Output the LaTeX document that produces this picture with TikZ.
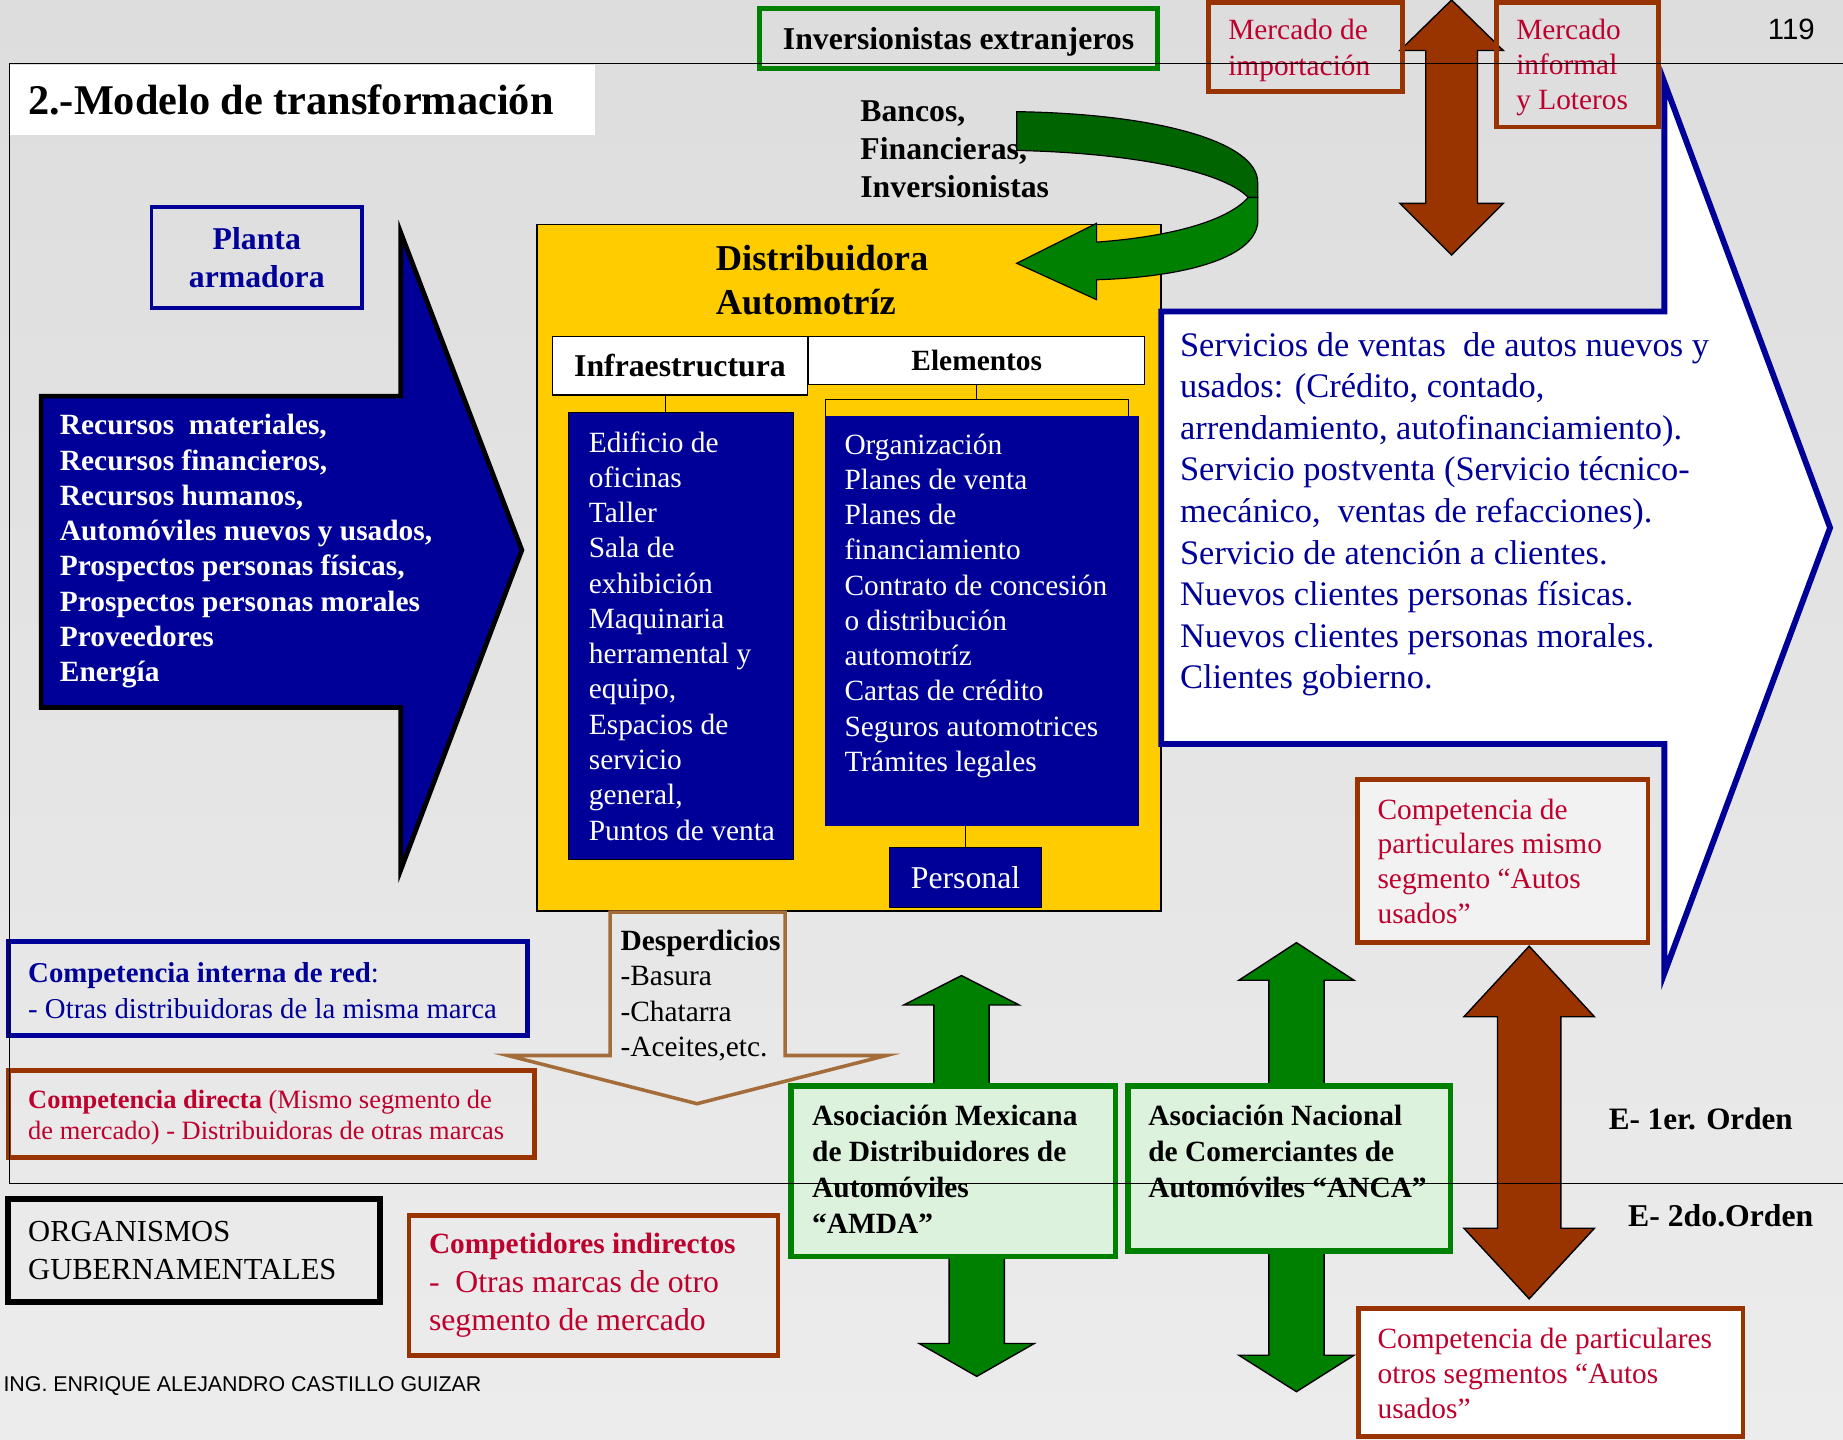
\documentclass[tikz,border=0pt]{standalone}
\usepackage{fontspec}
\setmainfont{Liberation Serif}
\newfontfamily\arial{Liberation Sans}
\definecolor{fondoA}{RGB}{221,221,221}
\definecolor{fondoB}{RGB}{236,236,236}
\definecolor{azul}{RGB}{0,0,153}
\definecolor{verde}{RGB}{0,128,0}
\definecolor{verdeosc}{RGB}{0,100,0}
\definecolor{verdeclaro}{RGB}{221,242,221}
\definecolor{cafe}{RGB}{153,51,0}
\definecolor{carmin}{RGB}{190,0,45}
\definecolor{amarillo}{RGB}{255,204,0}
\definecolor{ocre}{RGB}{163,108,56}
\definecolor{grisclaro}{RGB}{242,242,242}
\newcommand\tam[2]{\fontsize{#1}{#2}\selectfont}
\begin{document}
\begin{tikzpicture}[x=1pt,y=-1pt,
  every node/.style={inner sep=0pt,outer sep=0pt},
  caja/.style={rectangle,draw,line width=4pt,anchor=north west},
  cajacafe/.style={caja,draw=cafe},
  cajaazul/.style={caja,draw=azul},
  cajaverde/.style={caja,draw=verde,fill=verdeclaro,line width=5pt},
  rotulo/.style={rectangle,draw,fill=white,line width=1pt,anchor=north west},
  lista/.style={rectangle,fill=azul,anchor=north west},
  texto/.style={align=left,anchor=west},
  flechaverde/.style={fill=verde,draw=black,line width=1.2pt},
  flechacafe/.style={fill=cafe,draw=black,line width=1.2pt},
  marco/.style={line width=1.3pt}]
\def\flechav#1#2#3#4{
  \filldraw[flechaverde] (#1-23.5,#2) -- (#1-23.5,#3) -- (#1-49,#3) -- (#1,#4)
    -- (#1+49,#3) -- (#1+23.5,#3) -- (#1+23.5,#2) -- cycle;
}
\def\flechadoble#1#2#3#4#5#6#7{
  \filldraw[flechacafe] (#1,#4) -- (#1+#3,#5) -- (#1+#2,#5) -- (#1+#2,#6)
    -- (#1+#3,#6) -- (#1,#7) -- (#1-#3,#6) -- (#1-#2,#6) -- (#1-#2,#5)
    -- (#1-#3,#5) -- cycle;
}
\shade[top color=fondoA,bottom color=fondoB] (0,0) rectangle (1568,1225);
\useasboundingbox (0,0) rectangle (1568,1225);
% titulo
\node[fill=white,anchor=north west,minimum width=498,minimum height=60] (titulo) at (8,55) {};
\node[texto,font=\bfseries\tam{36}{40}] (titulotxt) at ([xshift=16pt]titulo.west) {2.-Modelo de transformación};
\node[caja,draw=verde,minimum width=339,minimum height=51,text depth=0pt,font=\bfseries\tam{27}{32}] (inversion) at (646,7) {Inversionistas extranjeros};
\node[font=\arial\tam{25}{30}] (pagina) at (1524,25) {119};
% entradas
\filldraw[fill=azul,draw=black,line width=4pt] (35,337) -- (341,337) -- (341,198) -- (444,468)
  -- (341,740) -- (341,602) -- (35,602) -- cycle;
\node[texto,text=white,font=\bfseries\tam{25}{30}] (recursos) at (51,469) {Recursos\ \ materiales,\\Recursos financieros,\\Recursos humanos,\\Automóviles nuevos y usados,\\Prospectos personas físicas,\\Prospectos personas morales\\Proveedores\\Energía};
\node[caja,draw=azul,line width=3pt,minimum width=179,minimum height=86,align=center,text=azul,font=\bfseries\tam{27}{32}] (planta) at (129,176) {Planta\\armadora};
% distribuidora
\node[rectangle,draw=black,fill=amarillo,line width=1.5pt,anchor=north west,minimum width=531,minimum height=584] (distribuidora) at (457,191) {};
\node[texto,font=\bfseries\tam{31}{37.5}] (distribuidoratxt) at (609,238.5) {Distribuidora\\Automotríz};
\node[rotulo,minimum width=217,minimum height=50,font=\bfseries\tam{27}{32}] (infra) at (470,286) {Infraestructura};
\node[rotulo,minimum width=286,minimum height=41,font=\bfseries\tam{25}{30}] (elementos) at (688,286) {Elementos};
\node[lista,draw=black,line width=0.8pt,minimum width=191,minimum height=380] (listainfra) at (484,351) {};
\node[texto,text=white,font=\tam{25}{30}] (listainfratxt) at ([xshift=17pt]listainfra.west) {Edificio de\\oficinas\\Taller\\Sala de\\exhibición\\Maquinaria\\herramental y\\equipo,\\Espacios de\\servicio\\general,\\Puntos de venta};
\node[lista,minimum width=267,minimum height=349] (listaelem) at (702,354) {};
\node[texto,anchor=north west,text=white,font=\tam{25}{30}] (listaelemtxt) at ([shift={(16.5,15)}]listaelem.north west) {Organización\\Planes de venta\\Planes de\\financiamiento\\Contrato de concesión\\o distribución\\automotríz\\Cartas de crédito\\Seguros automotrices\\Trámites legales};
\node[lista,draw=black,line width=1pt,minimum width=129,minimum height=51,text=white,font=\tam{27}{32}] (personal) at (757,721) {Personal};
\coordinate (horquilla) at (831,340);
\draw[line width=1pt] ([xshift=-12.5pt]infra.south) -- ([xshift=-12.5pt]infra.south |- listainfra.north);
\draw[line width=1pt] (elementos.south) -- (horquilla);
\draw[line width=1pt] (listaelem.north west) |- (horquilla) -| ([xshift=-9pt]listaelem.north east);
\draw[line width=1pt] (personal.north) -- (personal.north |- listaelem.south);
% financiamiento
\filldraw[fill=verdeosc,draw=black,line width=1pt] (865,95) .. controls (990,97) and (1070,122) .. (1070,155)
  -- (1070,168) -- (1062,168) .. controls (1040,145) and (960,130) .. (865,128) -- cycle;
\filldraw[fill=verde,draw=black,line width=1pt] (1062,168) -- (1070,168) -- (1070,190)
  .. controls (1066,222) and (1000,236) .. (933,238) -- (933,255) -- (865,224) -- (933,190)
  -- (933,206) .. controls (1000,201) and (1045,187) .. (1062,168) -- cycle;
\node[texto,font=\bfseries\tam{27}{32.5}] (bancos) at (732,127) {Bancos,\\Financieras,\\Inversionistas};
% salidas
\filldraw[fill=white,draw=azul,line width=5pt] (988,265) -- (1416,265) -- (1416,70) -- (1557,449)
  -- (1416,828) -- (1416,633) -- (988,633) -- cycle;
\node[texto,text=azul,font=\tam{29.3}{35.4}] (servicios) at (1004,437.5) {Servicios de ventas\ \ de autos nuevos y\\usados: (Crédito, contado,\\arrendamiento, autofinanciamiento).\\Servicio postventa (Servicio técnico-\\mecánico,\ \ ventas de refacciones).\\Servicio de atención a clientes.\\Nuevos clientes personas físicas.\\Nuevos clientes personas morales.\\Clientes gobierno.};
\flechadoble{1235}{22}{44}{0}{43}{173}{217}
\node[cajacafe,minimum width=165,minimum height=76] (mercadoimp) at (1028,2) {};
\node[texto,text=carmin,font=\tam{25}{30}] (mercadoimptxt) at ([shift={(17,3)}]mercadoimp.west) {Mercado de\\importación};
\node[cajacafe,minimum width=138,minimum height=106] (mercadoinf) at (1273,2) {};
\node[texto,text=carmin,font=\tam{25}{29.5}] (mercadoinftxt) at ([shift={(17,2.5)}]mercadoinf.west) {Mercado\\informal\\y Loteros};
% desperdicios
\draw[draw=ocre,line width=3pt] (519,776) -- (519,898) -- (432,898) -- (593,939) -- (754,898)
  -- (668,898) -- (668,776) -- cycle;
\node[texto,font=\tam{25}{30}] (desperdicios) at (528,847) {\textbf{Desperdicios}\\-Basura\\-Chatarra\\-Aceites,etc.};
% competencia
\node[cajaazul,minimum width=442,minimum height=80] (compinterna) at (7,801) {};
\node[texto,text=azul,font=\tam{24.5}{31}] (compinternatxt) at ([shift={(17,2)}]compinterna.west) {\textbf{Competencia interna de red}:\\- Otras distribuidoras de la misma marca};
\node[cajacafe,minimum width=448,minimum height=74] (compdirecta) at (7,911) {};
\node[texto,text=carmin,font=\tam{22.5}{26.5}] (compdirectatxt) at ([shift={(17,3)}]compdirecta.west) {\textbf{Competencia directa} (Mismo segmento de\\de mercado) - Distribuidoras de otras marcas};
\node[caja,line width=5pt,minimum width=316,minimum height=88] (organismos) at (7,1020) {};
\node[texto,font=\tam{26}{32}] (organismostxt) at ([xshift=17pt]organismos.west) {ORGANISMOS\\GUBERNAMENTALES};
\node[cajacafe,minimum width=314,minimum height=119] (compindirectos) at (348,1034) {};
\node[texto,text=carmin,font=\tam{27}{32.5}] (compindirectostxt) at ([xshift=17pt]compindirectos.west) {{\bfseries\tam{25}{32.5}Competidores indirectos}\\-\ \ Otras marcas de otro\\segmento de mercado};
% asociaciones
\flechav{818}{926}{855}{830}
\flechav{831}{1062}{1143}{1171}
\flechav{1103}{926}{834}{802}
\flechav{1103}{1062}{1153}{1184}
\node[cajaverde,minimum width=276,minimum height=145] (amda) at (673,924) {};
\node[texto,anchor=north west,font=\bfseries\tam{25}{30.5}] (amdatxt) at ([shift={(18,16.5)}]amda.north west) {Asociación Mexicana\\de Distribuidores de\\Automóviles\\“AMDA”};
\node[cajaverde,minimum width=274,minimum height=140] (anca) at (960,924) {};
\node[texto,anchor=north west,font=\bfseries\tam{25}{30.5}] (ancatxt) at ([shift={(17,16.5)}]anca.north west) {Asociación Nacional\\de Comerciantes de\\Automóviles “ANCA”};
% particulares
\flechadoble{1301}{27}{55.5}{805}{865}{1045}{1105}
\node[cajacafe,fill=grisclaro,minimum width=247,minimum height=139] (mismo) at (1155,663) {};
\node[texto,text=carmin,font=\tam{25}{29.5}] (mismotxt) at ([xshift=17pt]mismo.west) {Competencia de\\particulares mismo\\segmento “Autos\\usados”};
\node[cajacafe,fill=white,minimum width=327,minimum height=109] (otros) at (1156,1113) {};
\node[texto,text=carmin,font=\tam{25}{29.5}] (otrostxt) at ([shift={(16,1)}]otros.west) {Competencia de particulares\\otros segmentos “Autos\\usados”};
\node[font=\bfseries\tam{26.5}{32}] (orden1) at (1447,952) {E- 1er. Orden};
\node[font=\bfseries\tam{27}{32}] (orden2) at (1464,1034) {E- 2do.Orden};
\node[texto,font=\arial\tam{18.2}{22}] (autor) at (3,1179) {ING. ENRIQUE ALEJANDRO CASTILLO GUIZAR};
% marco
\draw[marco] (8,54) -- (1568,54);
\draw[marco] (8,54) -- (8,1007) -- (1568,1007);
\end{tikzpicture}
\end{document}
